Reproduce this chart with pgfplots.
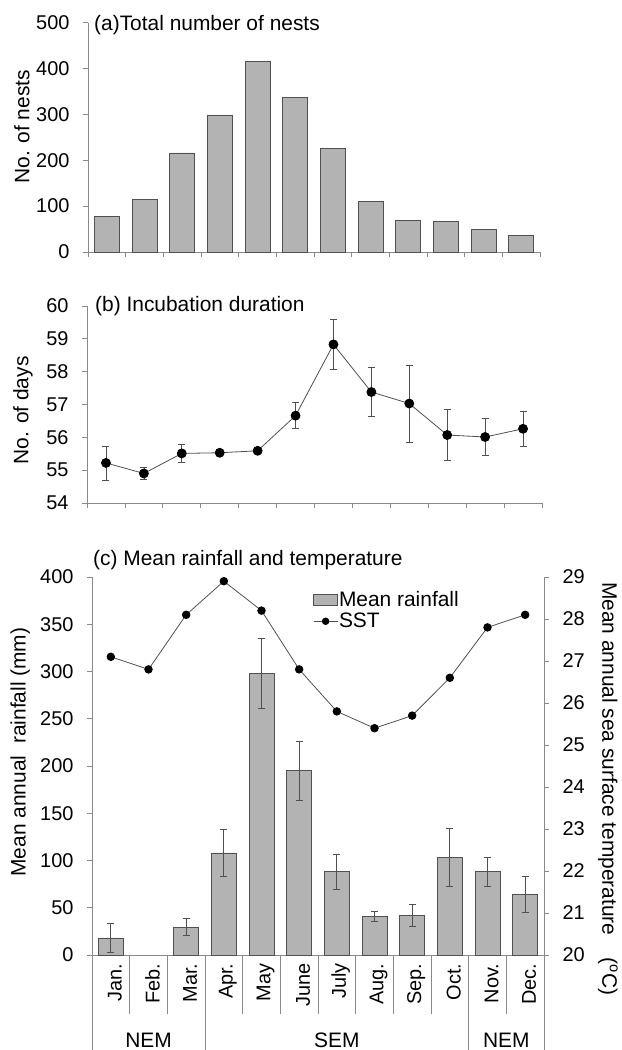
\documentclass[border=0pt]{standalone}
\usepackage{fontspec}
\setmainfont{Liberation Sans}
\usepackage{pgfplots}
\pgfplotsset{compat=1.18}

\definecolor{barfill}{HTML}{B3B3B3}
\definecolor{bardraw}{HTML}{505050}
\definecolor{axisgray}{HTML}{8A8A8A}
\definecolor{linegray}{HTML}{505050}

\tikzset{title node/.style={anchor=west, font=\fontsize{21}{25}\selectfont, inner sep=0pt}}

\pgfplotsset{
  panel/.style={
    scale only axis, anchor=south west, clip=false,
    xmin=0.5, xmax=12.5,
    axis x line*=bottom, axis y line*=left,
    axis line style={axisgray, line width=0.8pt, -},
    tick align=outside, major tick length=5bp,
    tick style={axisgray, line width=0.8pt},
    tick label style={font=\fontsize{20}{24}\selectfont, text=black},
    /pgf/number format/assume math mode=true,
    label style={font=\fontsize{21}{25}\selectfont},
  },
  errs/.style={error bars/.cd, y dir=both, y explicit,
    error bar style={linegray, line width=0.7pt},
    error mark options={linegray, line width=0.7pt, mark size=3.5bp, rotate=90}},
  sstleg/.style={legend image code/.code={%
    \draw[##1, mark size=3.3bp, mark repeat=2, mark phase=2] plot coordinates {(0bp,0bp) (12bp,0bp) (24bp,0bp)};}},
  barleg/.style={legend image code/.code={%
    \draw[fill=barfill, draw=bardraw, line width=0.7pt] (0bp,-5.5bp) rectangle (24bp,5.5bp);}},
}

\begin{document}
\begin{tikzpicture}
\useasboundingbox (0,0) rectangle (622bp,1050bp);

% (a) nests
\begin{axis}[panel, at={(88bp,798bp)}, width=452bp, height=229.3bp,
  ymin=0, ymax=500, ytick={0,100,...,500},
  xtick={0.5,1.5,...,12.5}, xticklabels={},
  yticklabel style={xshift=-10bp},
  ylabel={No. of nests},
  ylabel style={at={(axis description cs:-0.146,0.546)}, anchor=center}]
\addplot[ybar, bar width=25bp, fill=barfill, draw=bardraw, line width=0.7pt] coordinates {
  (1,78) (2,115) (3,216) (4,299) (5,416) (6,337)
  (7,226) (8,110) (9,69) (10,67) (11,50) (12,36)};
\node[title node] at (axis description cs:0,1) [xshift=6bp, yshift=-2bp] {(a)Total number of nests};
\end{axis}

% (b) incubation
\begin{axis}[panel, at={(87bp,547bp)}, width=455bp, height=197bp,
  ymin=54, ymax=60, ytick={54,...,60},
  xtick={0.5,1.5,...,12.5}, xticklabels={},
  yticklabel style={xshift=-10bp},
  ylabel={No. of days},
  ylabel style={at={(axis description cs:-0.141,0.47)}, anchor=center}]
\addplot[linegray, line width=0.8pt, mark=*, mark size=4.5bp,
  mark options={fill=black, draw=black}, errs] coordinates {
  (1,55.22) +- (0,0.52)
  (2,54.90) +- (0,0.19)
  (3,55.51) +- (0,0.27)
  (4,55.53) +- (0,0.05)
  (5,55.59) +- (0,0.07)
  (6,56.66) +- (0,0.40)
  (7,58.83) +- (0,0.76)
  (8,57.38) +- (0,0.74)
  (9,57.03) +- (0,1.17)
  (10,56.07) +- (0,0.77)
  (11,56.01) +- (0,0.57)
  (12,56.26) +- (0,0.53)};
\node[title node] at (axis description cs:0,1) [xshift=8bp, yshift=0bp] {(b) Incubation duration};
\end{axis}

% (c) rainfall
\begin{axis}[panel, at={(92bp,95bp)}, width=452bp, height=378bp,
  ymin=0, ymax=400, ytick={0,50,...,400},
  xtick={1,...,12},
  xticklabels={Jan.,Feb.,Mar.,Apr.,May,June,July,Aug.,Sep.,Oct.,Nov.,Dec.},
  xtick style={draw=none},
  xticklabel style={rotate=90, anchor=east, font=\fontsize{20}{24}\selectfont, yshift=-4bp},
  yticklabel style={xshift=-10bp},
  ylabel={Mean annual\ \ rainfall (mm)},
  ylabel style={at={(axis description cs:-0.159,0.537)}, anchor=center}]
\addplot[ybar, bar width=25bp, fill=barfill, draw=bardraw, line width=0.7pt, errs] coordinates {
  (1,18) +- (0,15)
  (3,29.5) +- (0,9)
  (4,108) +- (0,25)
  (5,298) +- (0,37)
  (6,195) +- (0,31)
  (7,88) +- (0,19)
  (8,41) +- (0,5)
  (9,42) +- (0,11.5)
  (10,103) +- (0,30.5)
  (11,88) +- (0,15)
  (12,64.5) +- (0,19)};
\pgfplotsinvokeforeach{1.5,2.5,4.5,5.5,6.5,7.5,8.5,9.5,11.5}{
  \draw[axisgray, line width=0.8pt] (axis cs:#1,0) -- ++(0bp,-59bp);}
\pgfplotsinvokeforeach{0.5,3.5,10.5,12.5}{
  \draw[axisgray, line width=0.8pt] (axis cs:#1,0) -- ++(0bp,-95bp);}
\node[font=\fontsize{21}{25}\selectfont] at (axis cs:2,0) [yshift=-85bp] {NEM};
\node[font=\fontsize{21}{25}\selectfont] at (axis cs:7,0) [yshift=-85bp] {SEM};
\node[font=\fontsize{21}{25}\selectfont] at (axis cs:11.5,0) [yshift=-85bp] {NEM};
\node[title node] at (axis description cs:0,1) [xshift=1bp, yshift=17bp] {(c) Mean rainfall and temperature};
\end{axis}

% (c) SST on right axis
\begin{axis}[panel, at={(92bp,95bp)}, width=452bp, height=378bp,
  axis x line=none, axis y line*=right,
  ymin=20, ymax=29, ytick={20,...,29},
  yticklabel style={xshift=10bp},
  ylabel={Mean annual sea surface temperature\hspace{22bp}(\textsuperscript{o}C)},
  every axis y label/.style={at={(axis description cs:1,0.44)}, xshift=64bp, rotate=-90, anchor=center,
    font=\fontsize{21}{25}\selectfont},
  legend style={at={(axis description cs:0.489,0.962)}, anchor=north west,
    draw=none, fill=none, inner sep=0pt, row sep=5bp,
    font=\fontsize{21}{25}\selectfont,
    nodes={inner xsep=1bp, inner ysep=0bp}},
  legend cell align=left]
\addlegendimage{barleg}
\addlegendentry{Mean rainfall}
\addplot[linegray, line width=0.8pt, mark=*, mark size=3.8bp,
  mark options={fill=black, draw=black}, sstleg]
  coordinates {
  (1,27.1) (2,26.8) (3,28.1) (4,28.9) (5,28.2) (6,26.8)
  (7,25.8) (8,25.4) (9,25.7) (10,26.6) (11,27.8) (12,28.1)};
\addlegendentry{SST}
\end{axis}
\end{tikzpicture}
\end{document}
